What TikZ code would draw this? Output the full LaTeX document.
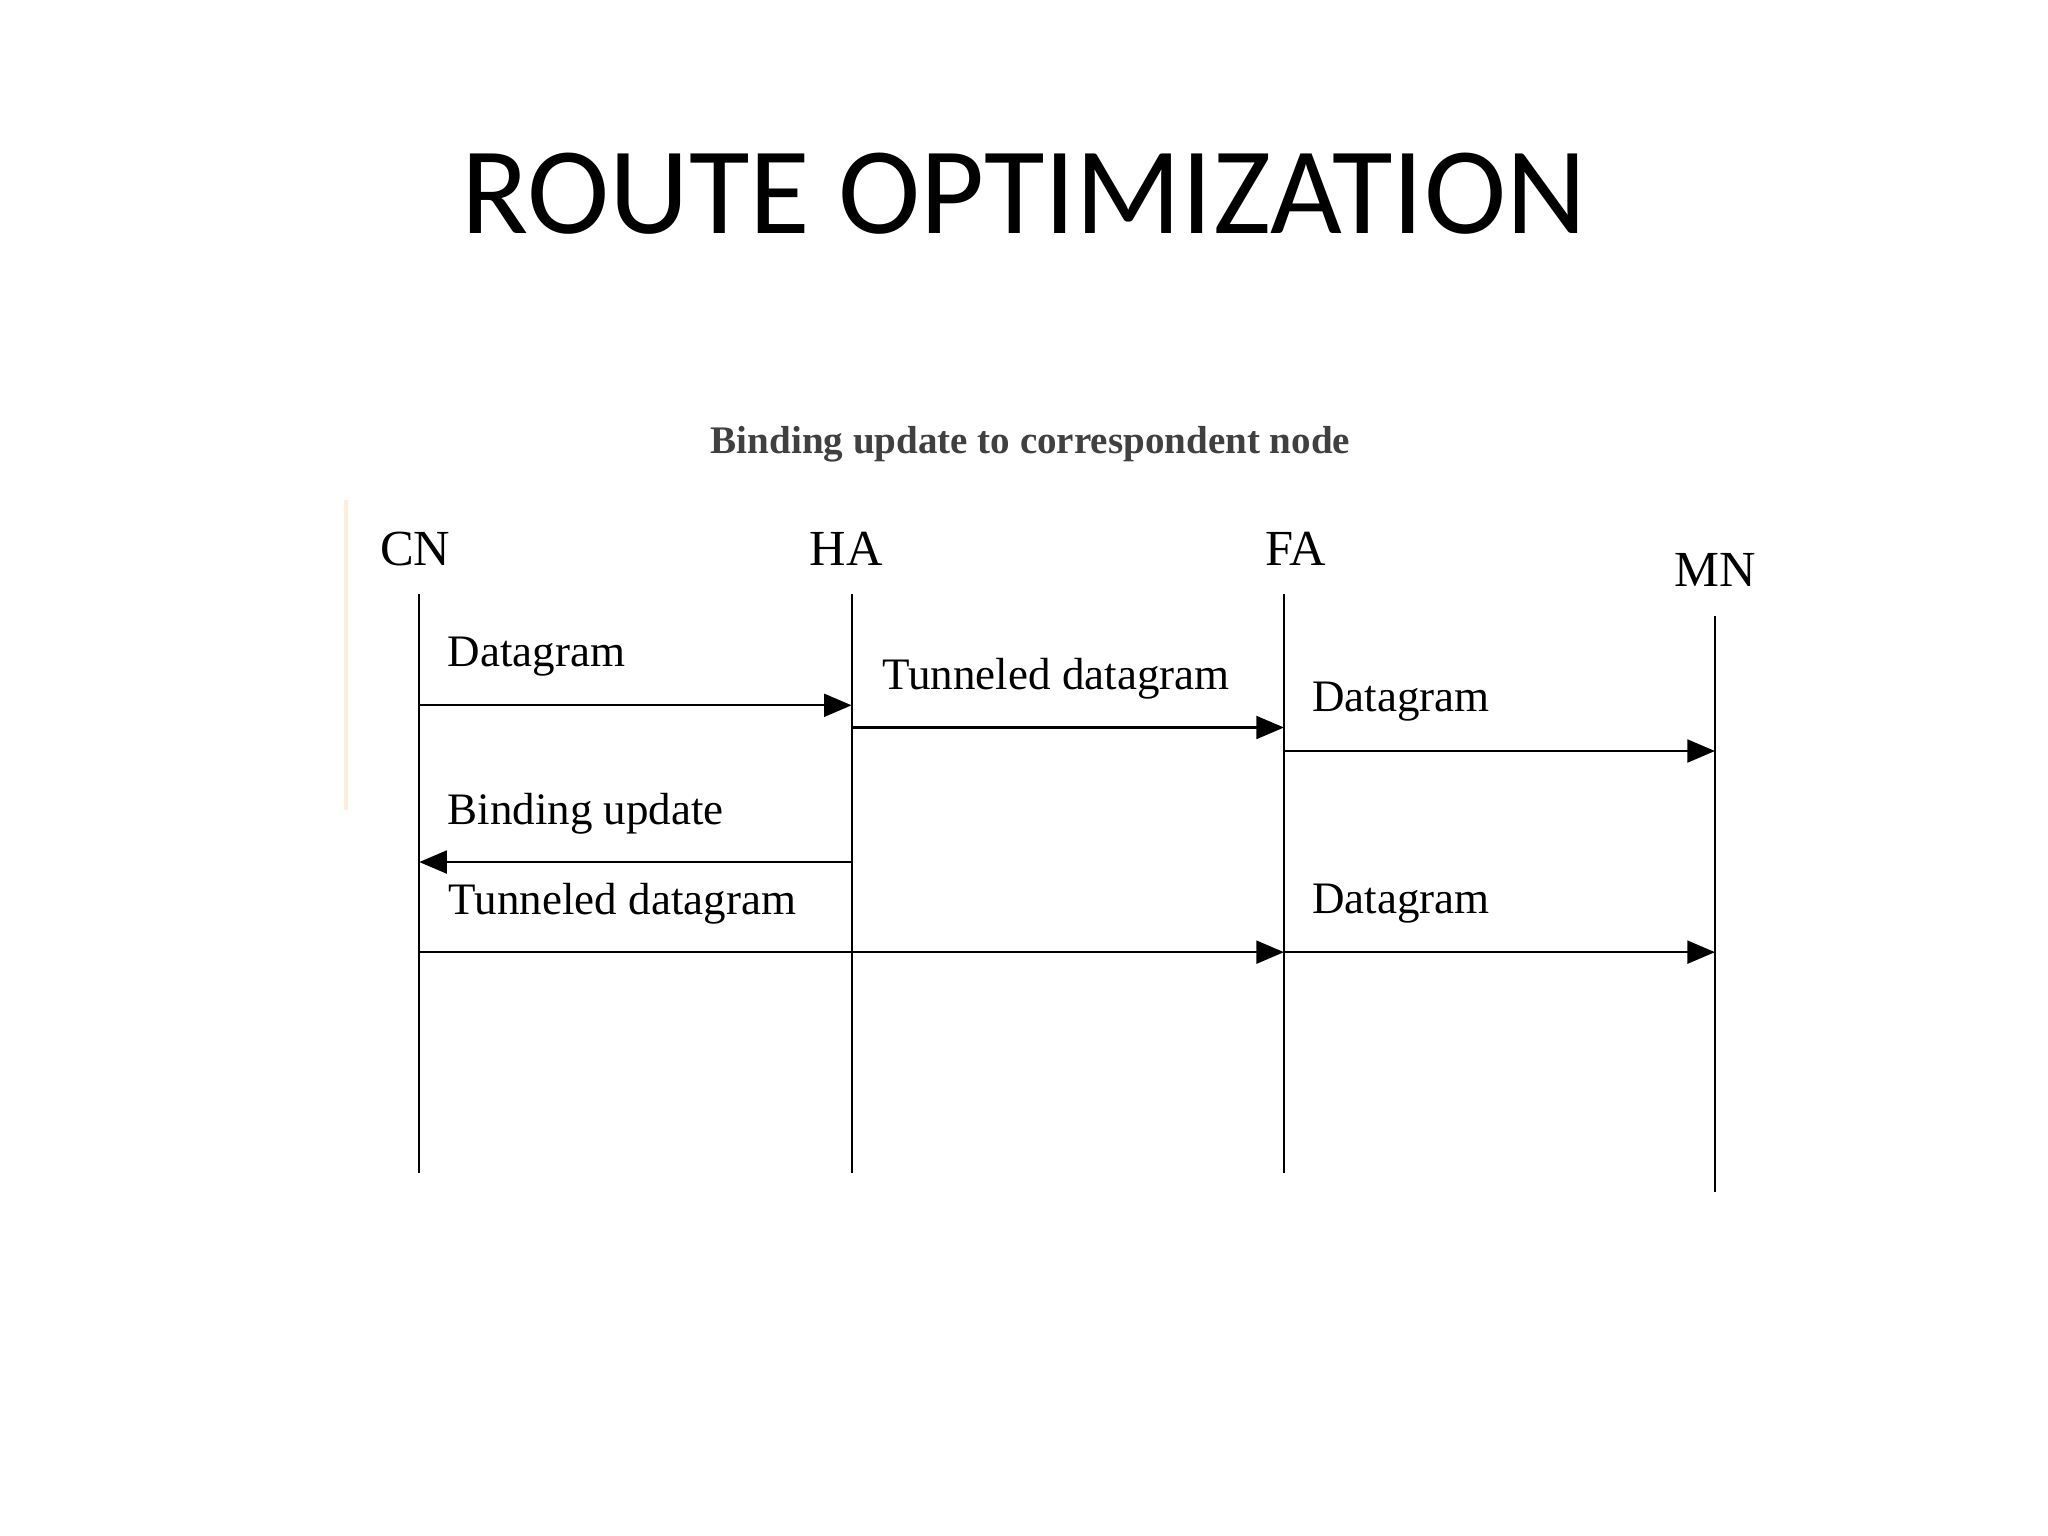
\documentclass[tikz,border=0pt]{standalone}
\usepackage{fontspec}
\setmainfont{Liberation Serif}
\newfontfamily\titlefont{Carlito}
\usetikzlibrary{arrows.meta}
\begin{document}
\begin{tikzpicture}[x=0.01cm,y=-0.01cm,
  life/.style={line width=0.45pt},
  msg/.style={line width=0.45pt,-{Triangle[length=6pt,width=5pt]}},
  lbl/.style={anchor=west,inner sep=0pt,font=\fontsize{9.8}{11}\selectfont},
  hd/.style={inner sep=0pt,font=\fontsize{11}{13}\selectfont}]
\useasboundingbox (0,0) rectangle (1568,1176);
\node[font=\titlefont\fontsize{27}{32}\selectfont] (title) at (784,148) {ROUTE OPTIMIZATION};
\node[font=\bfseries\fontsize{8.5}{10}\selectfont,text=black!75] (sub) at (789,340) {Binding update to correspondent node};
\draw[orange!15,line width=1pt] (265,383) -- (265,620);
\node[hd] (cnl) at (318,420) {CN};
\node[hd] (hal) at (648,420) {HA};
\node[hd] (fal) at (992,420) {FA};
\node[hd] (mnl) at (1313,436) {MN};
\coordinate (cn0) at (321,455); \coordinate (cn1) at (321,898);
\coordinate (ha0) at (652,455); \coordinate (ha1) at (652,898);
\coordinate (fa0) at (983,455); \coordinate (fa1) at (983,898);
\coordinate (mn0) at (1313,472); \coordinate (mn1) at (1313,913);
\draw[life] (cn0)--(cn1); \draw[life] (ha0)--(ha1);
\draw[life] (fa0)--(fa1); \draw[life] (mn0)--(mn1);
\coordinate (a1) at (321,540); \coordinate (b1) at (652,540);
\coordinate (a2) at (652,557); \coordinate (b2) at (983,557);
\coordinate (a3) at (983,575); \coordinate (b3) at (1313,575);
\coordinate (a4) at (652,660); \coordinate (b4) at (321,660);
\coordinate (a5) at (321,729); \coordinate (b5) at (983,729);
\coordinate (a6) at (983,729); \coordinate (b6) at (1313,729);
\draw[msg] (a1)--(b1); \draw[msg] (a2)--(b2); \draw[msg] (a3)--(b3);
\draw[msg] (a4)--(b4); \draw[msg] (a5)--(b5); \draw[msg] (a6)--(b6);
\node[lbl] (l1) at (342,503) {Datagram};
\node[lbl] (l2) at (675,520) {Tunneled datagram};
\node[lbl] (l3) at (1004,537) {Datagram};
\node[lbl] (l4) at (342,623) {Binding update};
\node[lbl] (l5) at (343,692) {Tunneled datagram};
\node[lbl] (l6) at (1004,692) {Datagram};
\end{tikzpicture}
\end{document}
